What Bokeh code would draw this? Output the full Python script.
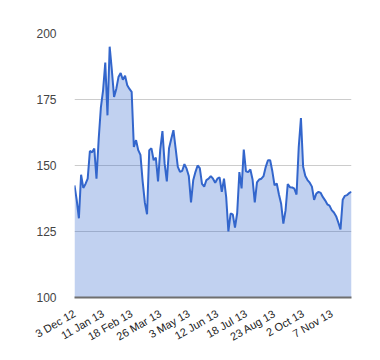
import math
from bokeh.plotting import figure
from bokeh.models import Range1d, FixedTicker, ColumnDataSource
from bokeh.embed import file_html
from bokeh.resources import INLINE

# Price series, one value per two trading days (3 Dec 2012 .. end Nov 2013)
values = [
    142.5, 137, 130, 146.5, 141.5, 143, 145, 155.5, 155, 156.4,
    145, 160, 172, 178.5, 189, 169, 195, 186, 176, 179,
    183.5, 185, 182.5, 184, 180.4, 179, 177.9, 157, 159.6, 155.8,
    154, 144, 136, 131.5, 155.8, 156.5, 152, 153, 144, 156,
    163, 150.7, 144, 156.5, 160, 163.4, 156.5, 149.5, 147.6, 148,
    150.5, 148.8, 146, 136, 144.4, 147.5, 150, 149, 143, 142,
    144.5, 145, 146, 145, 143.5, 145, 145.5, 140, 145, 138,
    125, 131.8, 131.5, 126.5, 132, 147.5, 141.3, 156, 147.8, 147.5,
    148.5, 144.7, 136, 143.6, 144.7, 145, 146, 149.5, 152, 152,
    147.8, 142.5, 143.2, 139, 135.5, 128, 133, 143, 141.8, 141.7,
    141.2, 139, 157, 168, 149.5, 146, 144.5, 143.5, 142, 137,
    139.4, 140, 139.6, 138, 136.8, 135.3, 134.8, 133.1, 132.2, 130.8,
    128.4, 125.8, 137, 138.5, 138.8, 139.6, 140,
]
tick_index = [0, 13, 26, 39, 52, 65, 78, 91, 104, 117]
tick_labels = ["3 Dec 12", "11 Jan 13", "18 Feb 13", "26 Mar 13", "3 May 13",
               "12 Jun 13", "18 Jul 13", "23 Aug 13", "2 Oct 13", "7 Nov 13"]
y_ticks = [100, 125, 150, 175, 200]

x = list(range(len(values)))
src = ColumnDataSource(data=dict(x=x, y=values, base=[100] * len(values)))

p = figure(frame_width=277, frame_height=264,
           min_border_left=74, min_border_right=21,
           min_border_top=33, min_border_bottom=50,
           x_range=Range1d(0, len(values) - 1), y_range=Range1d(100, 200),
           output_backend="svg", toolbar_location=None)
p.outline_line_color = None

p.varea(x="x", y1="base", y2="y", source=src, fill_color="#3366cc", fill_alpha=0.3)
p.line(x="x", y="y", source=src, line_color="#3366cc", line_width=2)

# grids
p.xgrid.grid_line_color = None
p.ygrid.ticker = FixedTicker(ticks=[125, 150, 175, 200])
p.ygrid.grid_line_color = "#cccccc"
p.ygrid.grid_line_width = 1

# y axis
p.yaxis.ticker = FixedTicker(ticks=y_ticks)
p.yaxis.axis_line_color = None
p.yaxis.major_tick_line_color = None
p.yaxis.minor_tick_line_color = None
p.yaxis.major_label_standoff = 12
p.yaxis.major_label_text_font = "Liberation Sans"
p.yaxis.major_label_text_font_size = "12px"
p.yaxis.major_label_text_color = "#444444"

# x axis
p.xaxis.ticker = FixedTicker(ticks=tick_index)
p.xaxis.major_label_overrides = {t: l for t, l in zip(tick_index, tick_labels)}
p.xaxis.axis_line_color = "#6f6f6f"
p.xaxis.axis_line_width = 2
p.xaxis.major_tick_line_color = None
p.xaxis.minor_tick_line_color = None
p.xaxis.major_label_orientation = math.pi / 6
p.xaxis.major_label_standoff = 9
p.xaxis.major_label_text_font = "Liberation Sans"
p.xaxis.major_label_text_font_size = "11px"
p.xaxis.major_label_text_color = "#222222"

open("out.html", "w").write(file_html(p, INLINE))
